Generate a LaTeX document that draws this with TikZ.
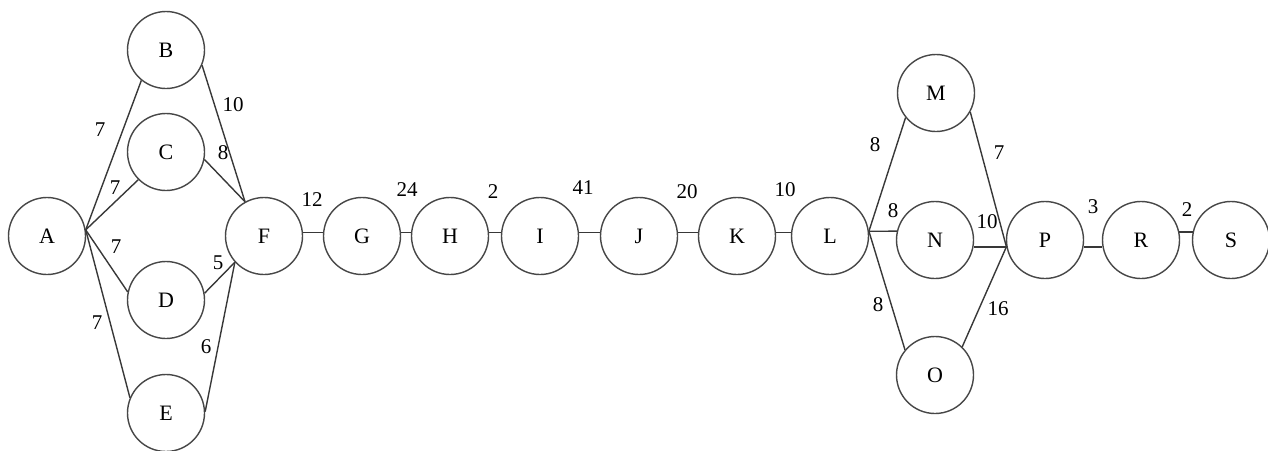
\documentclass[tikz,border=0pt]{standalone}
\usepackage{fontspec}
\setmainfont{Liberation Serif}
\begin{document}
\begin{tikzpicture}[x=1pt,y=-1pt,
  vertex/.style={draw=black!72,line width=1.4pt,circle,minimum size=77pt,inner sep=0pt,font=\fontsize{22}{26}\selectfont},
  wlab/.style={inner sep=0pt,font=\fontsize{21}{25}\selectfont},
  link/.style={draw=black!78,line width=1.4pt}]
\useasboundingbox (0,0) rectangle (1268,450);
% nodes
\node[vertex] (A) at (47,236) {A};
\node[vertex] (B) at (166,50) {B};
\node[vertex] (C) at (166,152) {C};
\node[vertex] (D) at (166,300) {D};
\node[vertex] (E) at (166,413) {E};
\node[vertex] (F) at (264,236) {F};
\node[vertex] (G) at (362,236) {G};
\node[vertex] (H) at (450,236) {H};
\node[vertex] (I) at (540,236) {I};
\node[vertex] (J) at (639,236) {J};
\node[vertex] (K) at (737,236) {K};
\node[vertex] (L) at (830,236) {L};
\node[vertex] (M) at (936,93) {M};
\node[vertex] (N) at (935,240) {N};
\node[vertex] (O) at (935,375) {O};
\node[vertex] (P) at (1045,240) {P};
\node[vertex] (R) at (1141,240) {R};
\node[vertex] (S) at (1231,240) {S};
% edges
\draw[link] (A.9) -- (B.231);
\draw[link] (A.9) -- (C.225);
\draw[link] (A.9) -- (D.168);
\draw[link] (A.9) -- (E.157);
\draw[link] (B.-23) -- (F.119);
\draw[link] (C.-11) -- (F.119);
\draw[link] (D.10) -- (F.222);
\draw[link] (E.2) -- (F.222);
\draw[link] (F.5) -- (G.175);
\draw[link] (G.5) -- (H.175);
\draw[link] (H.5) -- (I.175);
\draw[link] (I.5) -- (J.175);
\draw[link] (J.5) -- (K.175);
\draw[link] (K.5) -- (L.175);
\draw[link] (L.7) -- (M.219);
\draw[link] (L.7) -- (N.167);
\draw[link] (L.7) -- (O.140);
\draw[link] (M.-29) -- (P.190);
\draw[link] (N.-10) -- (P.190);
\draw[link] (O.46) -- (P.190);
\draw[link] (P.-10) -- (R.190);
\draw[link] (R.12) -- (S.168);
% weights
\node[wlab] (wAB) at (100,130) {7};
\node[wlab] (wBF) at (233,105) {10};
\node[wlab] (wAC) at (115,188) {7};
\node[wlab] (wCF) at (223,153) {8};
\node[wlab] (wAD) at (116,247) {7};
\node[wlab] (wDF) at (218,263) {5};
\node[wlab] (wAE) at (97,323) {7};
\node[wlab] (wEF) at (206,347) {6};
\node[wlab] (wFG) at (312,200) {12};
\node[wlab] (wGH) at (407,190) {24};
\node[wlab] (wHI) at (493,192) {2};
\node[wlab] (wIJ) at (583,188) {41};
\node[wlab] (wJK) at (687,192) {20};
\node[wlab] (wKL) at (785,190) {10};
\node[wlab] (wLM) at (875,145) {8};
\node[wlab] (wMP) at (999,153) {7};
\node[wlab] (wLN) at (893,211) {8};
\node[wlab] (wNP) at (987,222) {10};
\node[wlab] (wLO) at (878,305) {8};
\node[wlab] (wOP) at (998,309) {16};
\node[wlab] (wPR) at (1093,207) {3};
\node[wlab] (wRS) at (1187,210) {2};
\end{tikzpicture}
\end{document}
